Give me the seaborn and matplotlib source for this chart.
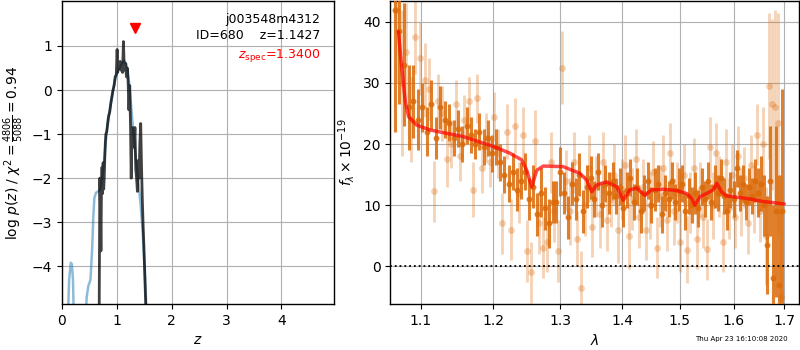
import numpy as np
import pandas as pd
import matplotlib
matplotlib.use("Agg")
import matplotlib.pyplot as plt
import matplotlib.ticker as mticker
import seaborn as sns

# ---------------- data: left panel (redshift PDF) ----------------
pz_z = [0.00, 0.06, 0.10, 0.13, 0.16, 0.18, 0.20, 0.23, 0.28, 0.36,
        0.42, 0.45, 0.48, 0.52, 0.55, 0.57, 0.59, 0.62, 0.66, 0.70,
        0.73, 0.76, 0.80, 0.84, 0.88, 0.92, 0.96, 1.00, 1.05, 1.09,
        1.13, 1.17, 1.20, 1.23, 1.26, 1.29, 1.32, 1.35, 1.38, 1.41,
        1.44, 1.47, 1.50, 1.53, 1.56, 1.62, 1.80, 2.5, 3.5, 4.96]
pz_smooth = [-12, -8, -5.5, -4.3, -3.92, -3.95, -4.3, -6, -9, -8,
             -5.5, -4.7, -4.45, -4.3, -3.6, -2.9, -2.45, -2.33, -2.3, -2.25,
             -2.0, -1.7, -1.15, -0.65, -0.4, -0.1, 0.2, 0.38, 0.5, 0.6,
             0.66, 0.6, 0.42, 0.1, -0.35, -0.8, -1.2, -1.6, -1.95, -2.3,
             -2.7, -3.2, -3.9, -4.7, -5.8, -8, -12, -20, -30, -40]

fine_z = [0.665, 0.680, 0.690, 0.700, 0.710, 0.720, 0.730, 0.740, 0.750, 0.760,
          0.770, 0.780, 0.790, 0.800, 0.815, 0.830, 0.850, 0.870, 0.890, 0.910,
          0.930, 0.950, 0.970, 0.990, 1.005, 1.015, 1.030, 1.045, 1.060, 1.075,
          1.090, 1.105, 1.120, 1.130, 1.145, 1.160, 1.175, 1.190, 1.205, 1.220,
          1.235, 1.250, 1.262, 1.272, 1.285, 1.300, 1.315, 1.330, 1.345, 1.360,
          1.375, 1.390, 1.405, 1.420, 1.435, 1.450, 1.465, 1.480, 1.495, 1.510,
          1.525, 1.540, 1.560]
fine_logp = [-9, -4.5, -2.0, -2.6, -3.65, -2.2, -1.75, -2.35, -1.65, -2.25,
             -2.0, -1.55, -1.2, -1.0, -0.95, -0.8, -0.6, -0.5, -0.3, -0.15,
             0.0, 0.1, 0.3, 0.35, 0.92, 0.4, 0.6, 0.5, 0.65, 0.45,
             0.6, 0.4, 1.1, 0.7, 0.45, 0.6, 0.3, 0.5, 0.2, -0.45,
             0.1, -0.85, -2.0, -1.2, -0.85, -1.0, -1.3, -0.85, -1.8, -2.0,
             -2.3, -1.6, -2.0, -1.2, -0.76, -1.75, -2.5, -3.1, -3.6, -4.2,
             -4.8, -5.5, -8]

z_spec = 1.34
z_spec_mark_y = 1.41
obj_name = "j003548m4312"
obj_id = 680
z_phot = 1.1427
chi2_num, chi2_den, chi2_red = 4806, 5088, 0.94

# ---------------- data: right panel (spectrum) ----------------
dark_wave_A = [1066, 1072, 1078, 1084, 1090, 1096, 1102, 1108, 1114, 1120,
               1126, 1132, 1138, 1144, 1150, 1156, 1162, 1168, 1174, 1180,
               1186, 1192, 1198, 1204, 1210, 1216, 1222, 1228, 1234, 1240,
               1246, 1252, 1258, 1264, 1270, 1276, 1282, 1288, 1294, 1300,
               1306, 1312, 1318, 1324, 1330, 1336, 1342, 1348, 1354, 1360,
               1366, 1372, 1378, 1384, 1390, 1396, 1402, 1408, 1414, 1420,
               1426, 1432, 1438, 1444, 1450, 1456, 1462, 1468, 1474, 1480,
               1486, 1492, 1498, 1504, 1510, 1516, 1522, 1528, 1534, 1540,
               1546, 1552, 1558, 1564, 1570, 1576, 1582, 1588, 1594, 1600,
               1606, 1612, 1618, 1624, 1630, 1636, 1642, 1648, 1654, 1660,
               1666, 1672, 1678, 1684, 1690, 1696]
dark_flux = [42, 38.5, 33, 26, 27, 24, 26, 22, 26.5, 21,
             26, 24, 23.5, 21, 22.5, 20, 23, 21.5, 20, 22,
             19.5, 21, 18.5, 19.5, 17, 15, 13.5, 15.5, 12.5, 14,
             15.5, 11, 13, 8.5, 12, 9.5, 7, 10.5, 10.5, 15.5,
             12, 8, 13.5, 11, 15, 9, 13, 14.5, 11, 15.5,
             10, 13.5, 12, 14, 11.5, 13, 9.5, 12.5, 14.5, 10.5,
             13, 9, 12, 14, 10, 12.5, 13.5, 8.5, 12, 11,
             14, 10.5, 12.5, 13.5, 9, 11.5, 10, 12, 9.5, 13,
             11, 14, 10.5, 13, 12, 14.5, 11.5, 9, 12.5, 11,
             16, 12, 13.5, 10.5, 13, 11.5, 14, 12, 13.5, 10,
             3.5, 14, -2, 9, -3, 9]
dark_err = [20, 12, 10, 7, 6, 5, 4, 4, 4, 3.5,
            3.5, 3, 3, 3, 3, 3, 3, 3, 2.5, 3,
            3, 3, 3, 3, 3, 3, 3, 3, 3.5, 3,
            3, 3.5, 3.5, 3.5, 4, 3.5, 4, 3.5, 3.5, 4,
            3.5, 3.5, 3.5, 3.5, 3.5, 3.5, 3.5, 3.5, 3, 3,
            3.5, 3, 3.5, 3, 3, 3, 3, 3, 3, 3,
            3, 3.5, 3, 3, 3, 3.5, 3, 3, 3, 3,
            3, 3, 3.5, 3, 3, 3, 3, 3.5, 3, 3,
            3, 3, 3, 3.5, 3, 3, 3, 3, 3, 3,
            3, 3, 3, 3, 3, 3, 3.5, 4, 4.5, 5,
            8, 9, 12, 14, 18, 20]

light_wave_A = [1069, 1075, 1081, 1087, 1093, 1099, 1105, 1111, 1117, 1123,
                1129, 1135, 1141, 1147, 1153, 1159, 1165, 1171, 1177, 1183,
                1189, 1195, 1201, 1207, 1213, 1219, 1225, 1231, 1237, 1243,
                1249, 1255, 1261, 1267, 1273, 1279, 1285, 1291, 1297, 1303,
                1309, 1315, 1321, 1327, 1333, 1339, 1345, 1351, 1357, 1363,
                1369, 1375, 1381, 1387, 1393, 1399, 1405, 1411, 1417, 1423,
                1429, 1435, 1441, 1447, 1453, 1459, 1465, 1471, 1477, 1483,
                1489, 1495, 1501, 1507, 1513, 1519, 1525, 1531, 1537, 1543,
                1549, 1555, 1561, 1567, 1573, 1579, 1585, 1591, 1597, 1603,
                1609, 1615, 1621, 1627, 1633, 1639, 1645, 1651, 1657, 1663,
                1669, 1675, 1681, 1687, 1693]
light_flux = [42, 30, 35, 24, 37.5, 34, 30.5, 29, 12.3, 27,
              25, 17.5, 20, 26.5, 18, 24, 27, 12.5, 27.5, 16,
              21, 17, 24.5, 18.5, 7, 22, 6, 23, 12, 21.5,
              2.5, -1, 20.5, 7, 3, 4, 17, 9, 2.5, 32.5,
              14, 9, 17, 4.5, -3.5, 10, 16, 6.5, 13, 8.5,
              17, 7.5, 11, 15, 6, 12.5, 16.5, 5, 11, 17.5,
              8, 13, 6, 10, 15.5, 3, 11.5, 16, 7.5, 18.5,
              9, 12, 4, 15, 2.7, 10.5, 16, 4.5, 12.5, 8,
              2.8, 19.5, 10, 18.5, 13, 4, 17, 9.5, 15, 8,
              18, 10.5, 14.5, 7, 16.5, 11, 21.5, 9, 20, 5,
              29.5, 26.5, 26, 23.5, -5]
light_err = [12, 12, 8, 7, 6, 6, 6, 5, 5, 4.5,
             4.5, 4.5, 4, 4, 4, 4, 4, 4.5, 4, 4,
             4, 4, 4, 4, 5, 4.5, 5, 4.5, 5, 4.5,
             5, 5, 5, 5, 5, 5, 5, 5, 5, 6,
             5, 5.5, 5, 4.5, 6, 5, 5.5, 5, 5, 5.5,
             5, 5, 4.5, 5, 5.5, 5, 5, 5.5, 5, 5,
             5, 4.5, 5, 5.5, 5, 5, 5, 5.5, 5, 5,
             5.5, 5, 5, 5, 5.5, 5, 5, 5, 4.5, 5,
             5, 5, 5.5, 5, 5, 5, 5.5, 5, 5, 5,
             5, 5.5, 5, 5, 5, 5.5, 5, 5, 6, 8,
             12, 14, 16, 18, 20]

model_wave = [1.0709, 1.075, 1.0795, 1.084, 1.0947, 1.1123, 1.158, 1.200, 1.224, 1.2414,
              1.2488, 1.2563, 1.2639, 1.2739, 1.3047, 1.331, 1.3418, 1.350, 1.358, 1.374,
              1.391, 1.402, 1.413, 1.4246, 1.4388, 1.450, 1.471, 1.494, 1.5125, 1.5215,
              1.5276, 1.5368, 1.549, 1.5614, 1.568, 1.577, 1.5866, 1.625, 1.658, 1.700]
model_flux = [38.4, 32.7, 27.2, 24.5, 23.1, 22.3, 21.2, 19.6, 18.5, 17.4,
              15.7, 13.0, 15.7, 16.4, 16.3, 15.2, 14.1, 12.2, 13.3, 13.8,
              13.0, 10.8, 12.5, 12.8, 11.6, 12.5, 12.6, 12.4, 11.9, 11.1,
              10.0, 11.4, 11.9, 12.5, 13.6, 12.2, 11.5, 11.1, 10.6, 10.2]

wave_ticks = [1.1, 1.2, 1.3, 1.4, 1.5, 1.6, 1.7]
timestamp = "Thu Apr 23 16:10:08 2020"

# ---------------- figure ----------------
sns.set_style("ticks")
plt.rcParams['font.family'] = ['DejaVu Sans']
plt.rcParams['axes.linewidth'] = 1.0
plt.rcParams['text.color'] = 'black'
plt.rcParams['axes.labelcolor'] = 'black'
plt.rcParams['xtick.color'] = 'black'
plt.rcParams['ytick.color'] = 'black'

fig = plt.figure(figsize=(8, 3.5), dpi=100)
ax1 = fig.add_axes([0.0775, 0.131, 0.340, 0.866])
ax2 = fig.add_axes([0.488, 0.131, 0.511, 0.866])

for ax in (ax1, ax2):
    ax.grid(True, color='#b0b0b0', linewidth=0.8)
    ax.set_axisbelow(True)
    for s in ax.spines.values():
        s.set_color('black')
    ax.tick_params(colors='black', labelcolor='black', labelsize=10)

# Left panel
df_s = pd.DataFrame({'z': pz_z, 'logp': pz_smooth})
df_f = pd.DataFrame({'z': fine_z, 'logp': fine_logp})
sns.lineplot(data=df_s, x='z', y='logp', ax=ax1, color='#1f77b4', alpha=0.5,
             linewidth=1.8, estimator=None, sort=False)
sns.lineplot(data=df_f, x='z', y='logp', ax=ax1, color='black', alpha=0.75,
             linewidth=2.0, estimator=None, sort=False)
ax1.plot([z_spec], [z_spec_mark_y], marker='v', color='red', markersize=7,
         linestyle='none')
ax1.set_xlim(0, 4.96)
ax1.set_ylim(-4.86, 2.02)
ax1.set_xticks([0, 1, 2, 3, 4])
ax1.set_yticks([-4, -3, -2, -1, 0, 1])
ax1.yaxis.set_major_formatter(mticker.FuncFormatter(lambda v, p: f"{int(v)}".replace('-', '\u2212')))
ax1.set_xlabel(r'$z$', fontsize=10, color='black')
ax1.set_ylabel(r'log $p(z)$ / $\chi^2=\frac{%d}{%d}=%.2f$' % (chi2_num, chi2_den, chi2_red),
               fontsize=10, color='black')
ax1.text(0.95, 0.94, obj_name, transform=ax1.transAxes, ha='right', va='center',
         fontsize=9, color='black')
ax1.text(0.95, 0.887, f"ID={obj_id}    z={z_phot:.4f}", transform=ax1.transAxes,
         ha='right', va='center', fontsize=9, color='black')
ax1.text(0.95, 0.82, r'$z_\mathrm{spec}$=' + f"{z_spec:.4f}", transform=ax1.transAxes,
         ha='right', va='center', fontsize=9, color='red')

# Right panel
orange = '#db6a08'
lw_l = np.array(light_wave_A) / 1000.0
lw_d = np.array(dark_wave_A) / 1000.0
ax2.errorbar(lw_l, light_flux, yerr=light_err, fmt='none', ecolor=orange,
             alpha=0.3, elinewidth=2.0, capsize=0, zorder=2)
df_l = pd.DataFrame({'w': lw_l, 'f': light_flux})
sns.scatterplot(data=df_l, x='w', y='f', ax=ax2, color=orange, alpha=0.3,
                s=24, linewidth=0, zorder=2)
ax2.errorbar(lw_d, dark_flux, yerr=dark_err, fmt='none', ecolor=orange,
             alpha=0.85, elinewidth=2.2, capsize=0, zorder=3)
df_d = pd.DataFrame({'w': lw_d, 'f': dark_flux})
sns.scatterplot(data=df_d, x='w', y='f', ax=ax2, color=orange, alpha=0.85,
                s=18, linewidth=0, zorder=3)
df_m = pd.DataFrame({'w': model_wave, 'f': model_flux})
sns.lineplot(data=df_m, x='w', y='f', ax=ax2, color='red', alpha=0.7,
             linewidth=2.5, estimator=None, sort=False, zorder=4)
ax2.axhline(0, color='black', linestyle=':', linewidth=1.3, zorder=5)

ax2.set_xscale('log')
ax2.set_xlim(1.0607, 1.7308)
ax2.set_ylim(-6.2, 43.4)
ax2.set_xticks(wave_ticks)
ax2.xaxis.set_minor_locator(mticker.NullLocator())
ax2.xaxis.set_major_formatter(mticker.FuncFormatter(lambda v, p: f"{v:.1f}"))
ax2.set_yticks([0, 10, 20, 30, 40])
ax2.set_xlabel(r'$\lambda$', fontsize=10, color='black')
ax2.set_ylabel(r'$f_\lambda \times 10^{-19}$', fontsize=10, color='black')

fig.text(0.984, 0.031, timestamp, ha='right', va='center', fontsize=5, color='black')

fig.savefig('out.png', dpi=100)
